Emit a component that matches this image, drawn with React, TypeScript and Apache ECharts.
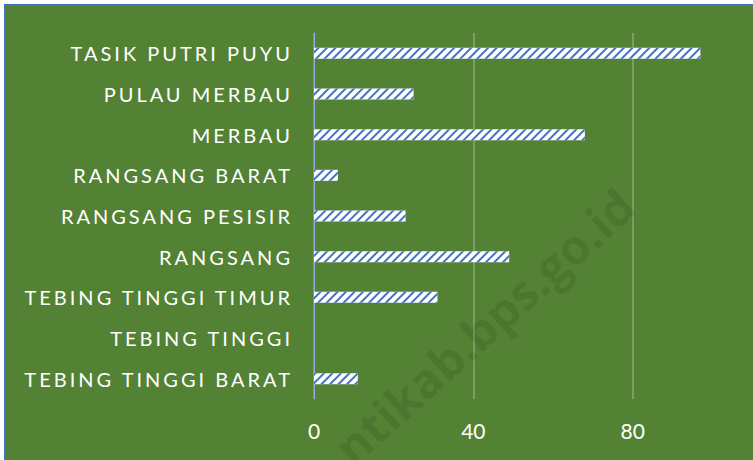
import React, { useEffect, useRef } from "react";
import * as echarts from "echarts";

const categories = [
  "TEBING TINGGI BARAT",
  "TEBING TINGGI",
  "TEBING TINGGI TIMUR",
  "RANGSANG",
  "RANGSANG PESISIR",
  "RANGSANG BARAT",
  "MERBAU",
  "PULAU MERBAU",
  "TASIK PUTRI PUYU",
];
const values = [11, 0, 31, 49, 23, 6, 68, 25, 97];
const watermark = "ntikab.bps.go.id";

const FONT = "Lato, 'Open Sans', sans-serif";

export default function App() {
  const ref = useRef<HTMLDivElement>(null);
  useEffect(() => {
    if (!ref.current) return;
    const chart = echarts.init(ref.current, null, { renderer: "svg" });
    const option: any = {
      animation: false,
      backgroundColor: "#548235",
      grid: {
        left: 314,
        top: 33,
        width: 478,
        height: 366,
        containLabel: false,
        outerBoundsMode: "none",
      },
      xAxis: {
        type: "value",
        min: 0,
        max: 120,
        interval: 40,
        axisLine: { show: false },
        axisTick: { show: false },
        axisLabel: {
          color: "#ffffff",
          fontSize: 21,
          fontFamily: FONT,
          margin: 21,
          showMaxLabel: false,
        },
        splitLine: { show: true, lineStyle: { color: "#86a970", width: 1.5 } },
      },
      yAxis: {
        type: "category",
        data: categories,
        axisLine: { show: true, lineStyle: { color: "#8FAADC", width: 1 } },
        axisTick: { show: false },
        axisLabel: { color: "#ffffff", fontSize: 20, fontFamily: FONT, margin: 21 },
        splitLine: { show: false },
      },
      series: [
        {
          type: "bar",
          data: values,
          barWidth: 11,
          itemStyle: {
            color: "#ffffff",
            decal: {
              symbol: "rect",
              symbolSize: 1,
              color: "#4472C4",
              dashArrayX: [1, 0],
              dashArrayY: [1.6, 4],
              rotation: -Math.PI / 4,
            },
          },
        },
      ],
      graphic: [
        { type: "rect", shape: { x: 0, y: 0, width: 753, height: 4 }, style: { fill: "#ffffff" } },
        { type: "rect", shape: { x: 0, y: 0, width: 4, height: 460 }, style: { fill: "#ffffff" } },
        { type: "line", shape: { x1: 4, y1: 4.75, x2: 753, y2: 4.75 }, style: { stroke: "#4472C4", lineWidth: 1.5 } },
        { type: "line", shape: { x1: 4.75, y1: 4, x2: 4.75, y2: 460 }, style: { stroke: "#4472C4", lineWidth: 1.5 } },
        {
          type: "text",
          x: 484,
          y: 326,
          rotation: (42 * Math.PI) / 180,
          z: 100,
          silent: true,
          style: {
            text: watermark,
            fill: "rgba(0,0,0,0.1)",
            font: "bold 48px 'Open Sans', sans-serif",
            align: "center",
            verticalAlign: "middle",
          },
        },
      ],
    };
    chart.setOption(option);
    const applySpacing = () => {
      const texts = ref.current?.querySelectorAll("text");
      texts?.forEach((t) => {
        if (categories.includes((t.textContent || "").trim())) {
          (t as any).style.letterSpacing = "3px";
        }
      });
    };
    applySpacing();
    chart.on("finished", applySpacing);
    return () => chart.dispose();
  }, []);
  return <div ref={ref} style={{ position: "fixed", left: 0, top: 0, width: 753, height: 460 }} />;
}
